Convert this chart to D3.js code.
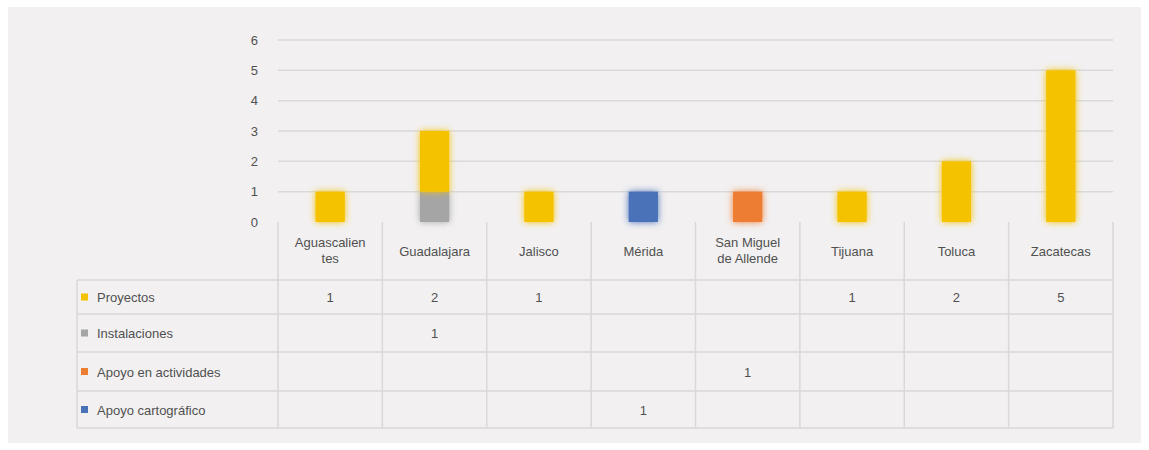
<!DOCTYPE html>
<html>
<head>
  <meta charset="utf-8" />
  <title>Proyectos por ciudad</title>
  <script src="https://d3js.org/d3.v7.min.js"></script>
  <style>
    body { margin: 0; background: #ffffff; }
    text { font-family: "Liberation Sans", Arial, sans-serif; fill: #505050; }
  </style>
</head>
<body>
  <div id="chart"></div>
  <script>
    // data
    var cities = ["Aguascalientes", "Guadalajara", "Jalisco", "Mérida", "San Miguel de Allende", "Tijuana", "Toluca", "Zacatecas"];
    var cityLines = [["Aguascalien", "tes"], ["Guadalajara"], ["Jalisco"], ["Mérida"], ["San Miguel", "de Allende"], ["Tijuana"], ["Toluca"], ["Zacatecas"]];
    var seriesNames = ["Proyectos", "Instalaciones", "Apoyo en actividades", "Apoyo cartográfico"];
    var seriesColors = ["#f5c200", "#a5a5a5", "#ed7d31", "#4a72b8"];
    var proyectos = [1, 2, 1, 0, 0, 1, 2, 5];
    var instalaciones = [0, 1, 0, 0, 0, 0, 0, 0];
    var apoyoActividades = [0, 0, 0, 0, 1, 0, 0, 0];
    var apoyoCartografico = [0, 0, 0, 1, 0, 0, 0, 0];
    var yTicks = [0, 1, 2, 3, 4, 5, 6];

    var allValues = [proyectos, instalaciones, apoyoActividades, apoyoCartografico];
    var fs = 13;

    var W = 1149, H = 450;
    var svg = d3.select("#chart").append("svg")
      .attr("width", W).attr("height", H);

    // soft glow like the original image
    var defs = svg.append("defs");
    var f = defs.append("filter").attr("id", "glow")
      .attr("x", "-40%").attr("y", "-40%").attr("width", "180%").attr("height", "180%");
    f.append("feGaussianBlur").attr("in", "SourceGraphic").attr("stdDeviation", 3.5).attr("result", "b");
    var m = f.append("feMerge");
    m.append("feMergeNode").attr("in", "b");
    m.append("feMergeNode").attr("in", "SourceGraphic");

    // chart area background
    svg.append("rect")
      .attr("x", 8).attr("y", 7).attr("width", 1133).attr("height", 436)
      .attr("fill", "#f2f0f1");

    var plotLeft = 278, plotRight = 1113;
    var x = d3.scaleBand().domain(cities).range([plotLeft, plotRight]).padding(0);
    var y = d3.scaleLinear().domain([0, 6]).range([222, 40]);

    // gridlines
    svg.append("g").selectAll("line")
      .data(yTicks.filter(function (d) { return d > 0; }))
      .enter().append("line")
      .attr("x1", plotLeft).attr("x2", plotRight)
      .attr("y1", function (d) { return y(d); })
      .attr("y2", function (d) { return y(d); })
      .attr("stroke", "#d9d9d9").attr("stroke-width", 1.5);

    // y axis labels
    var yaxis = d3.axisLeft(y).tickValues(yTicks).tickFormat(d3.format("d")).tickSize(0).tickPadding(0);
    var yg = svg.append("g").attr("transform", "translate(258,0)").call(yaxis);
    yg.select(".domain").remove();
    yg.selectAll("text").attr("font-size", fs).attr("fill", "#505050")
      .attr("font-family", "Liberation Sans, Arial, sans-serif");

    // stacked bars: Instalaciones below Proyectos
    var rows = cities.map(function (c, i) {
      var r = { city: c };
      seriesNames.forEach(function (s, j) { r[s] = allValues[j][i]; });
      return r;
    });
    var stackOrder = ["Apoyo cartográfico", "Apoyo en actividades", "Instalaciones", "Proyectos"];
    var stacked = d3.stack().keys(stackOrder)(rows);
    var barW = x.bandwidth() * 0.28;

    svg.append("g").selectAll("g")
      .data(stacked)
      .enter().append("g")
      .attr("fill", function (d) { return seriesColors[seriesNames.indexOf(d.key)]; })
      .attr("filter", "url(#glow)")
      .selectAll("rect")
      .data(function (d) { return d.filter(function (p) { return p[1] > p[0]; }); })
      .enter().append("rect")
      .attr("x", function (d) { return x(d.data.city) + x.bandwidth() / 2 - barW / 2; })
      .attr("width", barW)
      .attr("y", function (d) { return y(d[1]); })
      .attr("height", function (d) { return y(d[0]) - y(d[1]); });

    // data table
    var tableLeft = 77, headBottom = 280;
    var rowLines = [headBottom, 314, 352, 391, 428];
    var grid = svg.append("g").attr("stroke", "#d9d9d9").attr("stroke-width", 1.5);

    rowLines.forEach(function (yy) {
      grid.append("line").attr("x1", tableLeft).attr("x2", plotRight).attr("y1", yy).attr("y2", yy);
    });
    grid.append("line").attr("x1", tableLeft).attr("x2", tableLeft).attr("y1", headBottom).attr("y2", 428);
    cities.forEach(function (c) {
      grid.append("line").attr("x1", x(c)).attr("x2", x(c)).attr("y1", y(0)).attr("y2", 428);
    });
    grid.append("line").attr("x1", plotRight).attr("x2", plotRight).attr("y1", y(0)).attr("y2", 428);

    // header labels
    cityLines.forEach(function (lines, i) {
      var cx = x(cities[i]) + x.bandwidth() / 2;
      var y0 = lines.length === 1 ? 256 : 247;
      lines.forEach(function (t, k) {
        svg.append("text").attr("x", cx).attr("y", y0 + k * 16)
          .attr("text-anchor", "middle").attr("font-size", fs).text(t);
      });
    });

    // legend rows and values
    seriesNames.forEach(function (s, j) {
      var cy = (rowLines[j] + rowLines[j + 1]) / 2;
      svg.append("rect").attr("x", 81).attr("y", cy - 3.5).attr("width", 7).attr("height", 7)
        .attr("fill", seriesColors[j]);
      svg.append("text").attr("x", 97).attr("y", cy + 5).attr("font-size", fs).text(s);
      allValues[j].forEach(function (v, i) {
        if (v > 0) {
          svg.append("text").attr("x", x(cities[i]) + x.bandwidth() / 2).attr("y", cy + 5)
            .attr("text-anchor", "middle").attr("font-size", fs).text(v);
        }
      });
    });
  </script>
</body>
</html>
